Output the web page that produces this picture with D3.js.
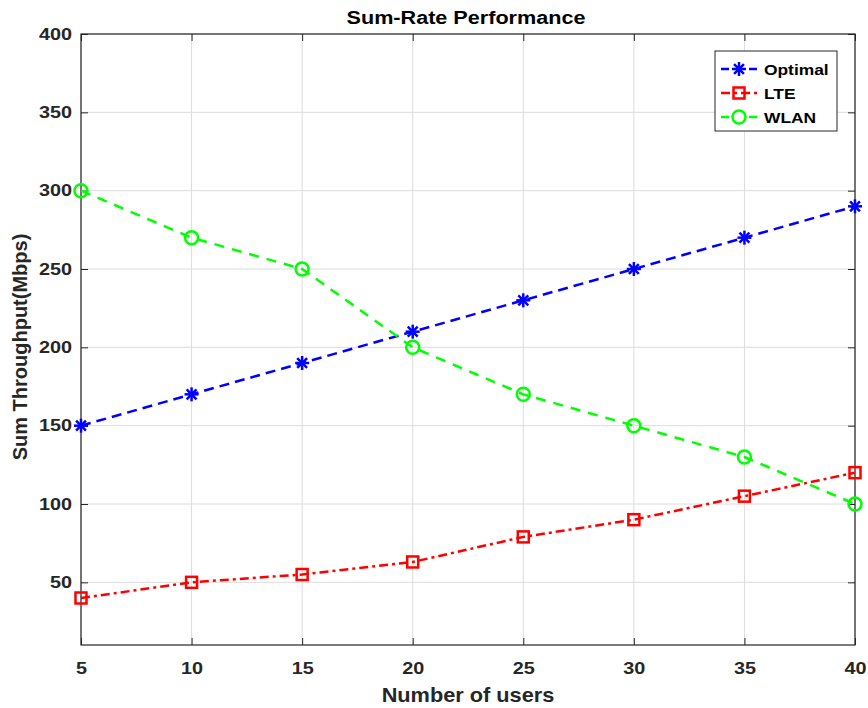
<!DOCTYPE html>
<html>
<head>
<meta charset="utf-8">
<script src="https://cdn.jsdelivr.net/npm/d3@7"></script>
<style>
  html, body { margin: 0; padding: 0; background: #fff; }
  svg { display: block; font-family: Arial, "Liberation Sans", Helvetica, sans-serif; }
</style>
</head>
<body>
<svg id="chart" width="868" height="708"></svg>
<script>
// Sum-rate data per number of users
const users = [5, 10, 15, 20, 25, 30, 35, 40];
const optimal = [150, 170, 190, 210, 230, 250, 270, 290];
const lte = [40, 50, 55, 63, 79, 90, 105, 120];
const wlan = [300, 270, 250, 200, 170, 150, 130, 100];
const xTicks = [5, 10, 15, 20, 25, 30, 35, 40];
const yTicks = [50, 100, 150, 200, 250, 300, 350, 400];
const seriesNames = ["Optimal", "LTE", "WLAN"];

const svg = d3.select("#chart");
const plotL = 81, plotR = 855, plotT = 34, plotB = 645;

const x = d3.scaleLinear().domain([5, 40]).range([plotL, plotR]);
const y = d3.scaleLinear().domain([10, 400]).range([plotB, plotT]);

const axisColor = "#262626";
const gridColor = "#dcdcdc";

// widen a text element horizontally by a factor
function widen(sel, factor) {
  sel.each(function () {
    const w = this.getComputedTextLength();
    d3.select(this).attr("textLength", w * factor).attr("lengthAdjust", "spacingAndGlyphs");
  });
}

// grid lines
const grid = svg.append("g");
grid.selectAll("line.gx").data(xTicks).join("line")
  .attr("x1", d => x(d)).attr("x2", d => x(d))
  .attr("y1", plotT).attr("y2", plotB)
  .attr("stroke", gridColor).attr("stroke-width", 1);
grid.selectAll("line.gy").data(yTicks).join("line")
  .attr("x1", plotL).attr("x2", plotR)
  .attr("y1", d => y(d)).attr("y2", d => y(d))
  .attr("stroke", gridColor).attr("stroke-width", 1);

// axes with inward ticks on all four sides
const tickLen = 7;
const axStyle = g => {
  g.select(".domain").remove();
  g.selectAll(".tick line").attr("stroke", axisColor).attr("stroke-width", 1);
  g.selectAll(".tick text").attr("fill", axisColor)
    .style("font-size", "16.5px").style("font-weight", "bold")
    .call(widen, 1.2);
};
svg.append("g").attr("transform", `translate(0,${plotB})`)
  .call(d3.axisBottom(x).tickValues(xTicks).tickSizeInner(-tickLen).tickSizeOuter(0).tickPadding(17))
  .call(axStyle);
svg.append("g").attr("transform", `translate(0,${plotT})`)
  .call(d3.axisTop(x).tickValues(xTicks).tickSizeInner(-tickLen).tickSizeOuter(0).tickFormat(""))
  .call(axStyle);
svg.append("g").attr("transform", `translate(${plotL},0)`)
  .call(d3.axisLeft(y).tickValues(yTicks).tickSizeInner(-tickLen).tickSizeOuter(0).tickPadding(9))
  .call(axStyle);
svg.append("g").attr("transform", `translate(${plotR},0)`)
  .call(d3.axisRight(y).tickValues(yTicks).tickSizeInner(-tickLen).tickSizeOuter(0).tickFormat(""))
  .call(axStyle);

// box
svg.append("rect").attr("x", plotL).attr("y", plotT)
  .attr("width", plotR - plotL).attr("height", plotB - plotT)
  .attr("fill", "none").attr("stroke", axisColor).attr("stroke-width", 1.2);

// series
const series = [
  { name: seriesNames[0], values: optimal, color: "#0000ff", dash: "10,6", marker: "star" },
  { name: seriesNames[1], values: lte, color: "#ff0000", dash: "9,4,3,4", marker: "square" },
  { name: seriesNames[2], values: wlan, color: "#00ff00", dash: "10,8", marker: "circle" }
];

const line = d3.line().x(d => x(d[0])).y(d => y(d[1]));

function drawMarker(g, type, color, cx, cy) {
  if (type === "star") {
    const r = 7;
    [0, 45, 90, 135].forEach(a => {
      const rad = a * Math.PI / 180;
      g.append("line")
        .attr("x1", cx - r * Math.cos(rad)).attr("y1", cy - r * Math.sin(rad))
        .attr("x2", cx + r * Math.cos(rad)).attr("y2", cy + r * Math.sin(rad))
        .attr("stroke", color).attr("stroke-width", 2.5);
    });
  } else if (type === "square") {
    g.append("rect").attr("x", cx - 5.5).attr("y", cy - 5.5)
      .attr("width", 11).attr("height", 11)
      .attr("fill", "none").attr("stroke", color).attr("stroke-width", 2.5);
  } else {
    g.append("circle").attr("cx", cx).attr("cy", cy).attr("r", 6.5)
      .attr("fill", "none").attr("stroke", color).attr("stroke-width", 2.5);
  }
}

series.forEach(s => {
  const pts = users.map((u, i) => [u, s.values[i]]);
  svg.append("path").datum(pts)
    .attr("d", line)
    .attr("fill", "none").attr("stroke", s.color)
    .attr("stroke-width", 2.5).attr("stroke-dasharray", s.dash);
  const mg = svg.append("g");
  pts.forEach(p => drawMarker(mg, s.marker, s.color, x(p[0]), y(p[1])));
});

// legend
const lg = svg.append("g");
lg.append("rect").attr("x", 715).attr("y", 51).attr("width", 122).attr("height", 80)
  .attr("fill", "#fff").attr("stroke", axisColor).attr("stroke-width", 1);
series.forEach((s, i) => {
  const cy = 69 + i * 24;
  lg.append("line").attr("x1", 721).attr("x2", 757).attr("y1", cy).attr("y2", cy)
    .attr("stroke", s.color).attr("stroke-width", 2.5)
    .attr("stroke-dasharray", s.marker === "square" ? "9,4,3,4" : "8,20");
  drawMarker(lg, s.marker, s.color, 739, cy);
  lg.append("text").attr("x", 764).attr("y", cy + 6)
    .attr("fill", "#000").style("font-size", "15.5px").style("font-weight", "bold")
    .text(s.name)
    .call(widen, 1.12);
});

// title and axis labels
svg.append("text").attr("x", 466).attr("y", 24)
  .attr("text-anchor", "middle").attr("fill", "#000")
  .style("font-size", "18px").style("font-weight", "bold")
  .text("Sum-Rate Performance")
  .call(widen, 1.2);
svg.append("text").attr("x", 468).attr("y", 702)
  .attr("text-anchor", "middle").attr("fill", axisColor)
  .style("font-size", "20.5px").style("font-weight", "bold")
  .text("Number of users")
  .call(widen, 1.06);
svg.append("text").attr("transform", "translate(27,347) rotate(-90)")
  .attr("text-anchor", "middle").attr("fill", axisColor)
  .style("font-size", "20px").style("font-weight", "bold")
  .text("Sum Throughput(Mbps)");
</script>
</body>
</html>
